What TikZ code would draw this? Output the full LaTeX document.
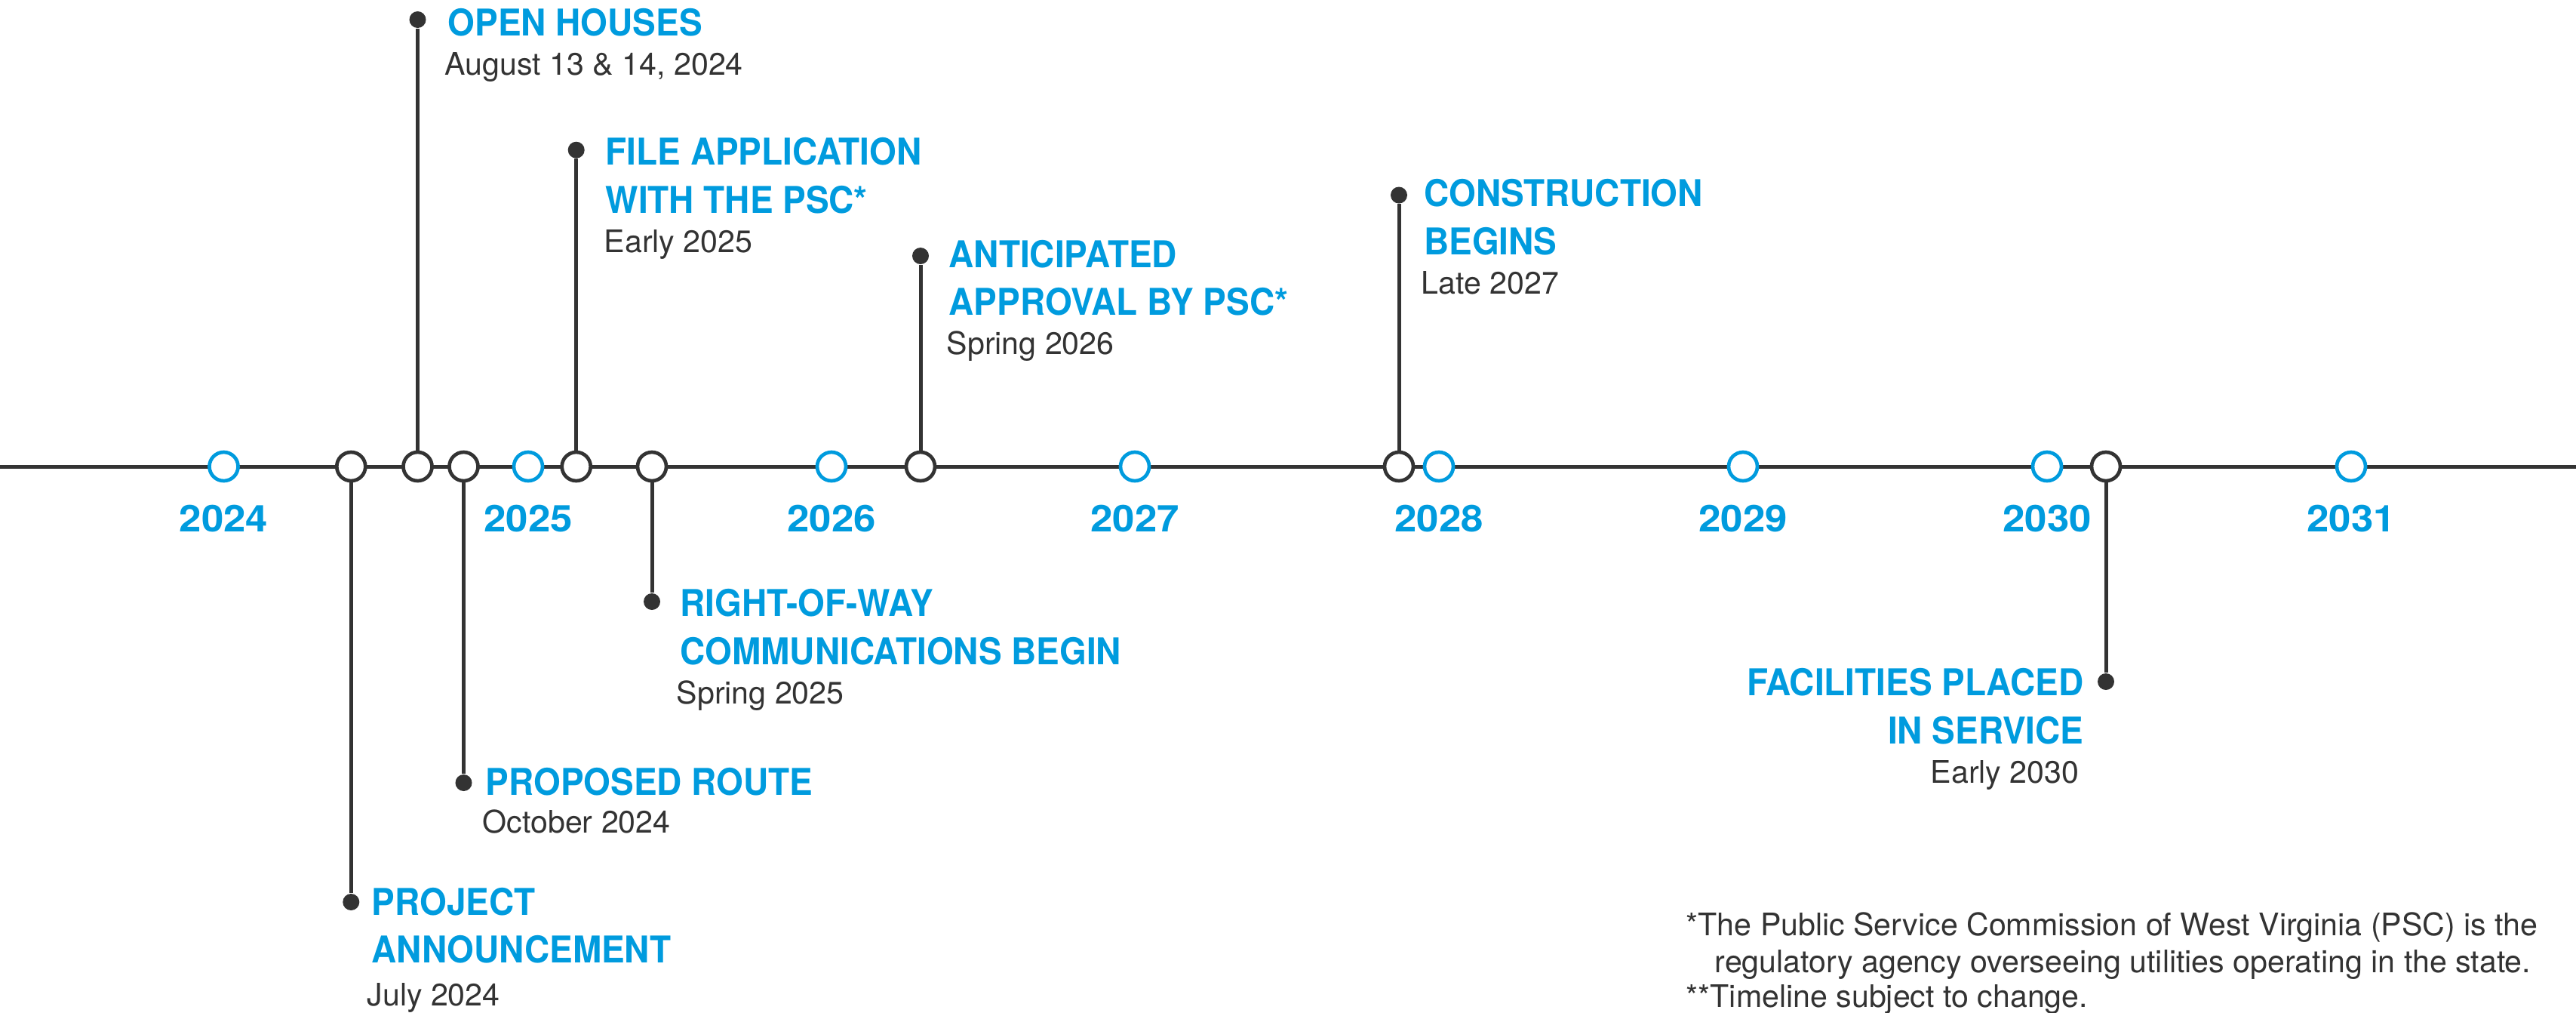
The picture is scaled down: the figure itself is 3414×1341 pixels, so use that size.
\documentclass[tikz,border=0pt]{standalone}
\usepackage{fontspec}
\setmainfont{TeX Gyre Heros}
\newfontfamily\ttlfont{TeX Gyre Heros}[FakeStretch=0.94]
\newfontfamily\yrfont{TeX Gyre Heros}[FakeStretch=1.08]
\definecolor{tblue}{RGB}{0,155,222}
\definecolor{tdark}{RGB}{51,51,51}
\begin{document}
\begin{tikzpicture}[x=0.01cm,y=-0.01cm,
  axis/.style={line width=0.05cm, draw=tdark},
  yearmark/.style={circle, draw=tblue, line width=0.047cm, fill=white, minimum size=0.38cm, inner sep=0pt},
  eventmark/.style={circle, draw=tdark, line width=0.047cm, fill=white, minimum size=0.38cm, inner sep=0pt},
  enddot/.style={circle, fill=tdark, minimum size=0.22cm, inner sep=0pt},
  stem/.style={line width=0.05cm, draw=tdark},
  ttl/.style={font=\ttlfont\bfseries\fontsize{13.9}{16}\selectfont, text=tblue, inner sep=0pt, anchor=base west},
  ttlr/.style={ttl, anchor=base east},
  yr/.style={font=\yrfont\bfseries\fontsize{13.9}{16}\selectfont, text=tblue, inner sep=0pt, anchor=base},
  dte/.style={font=\fontsize{11.7}{14}\selectfont, text=tdark, inner sep=0pt, anchor=base west},
  dter/.style={dte, anchor=base east},
  note/.style={dte}]
\useasboundingbox (0,0) rectangle (3414,1341);
\coordinate (L) at (0,618);
\coordinate (R) at (3414,618);
\draw[axis] (L) -- (R);

% year markers
\foreach \n/\x in {2024/296.5,2025/700,2026/1102,2027/1504,2028/1907,2029/2310,2030/2713,2031/3116}{
  \node[yearmark] (y\n) at (\x,618) {};
  \node[yr] (l\n) at (\x,704) {\n};
}

% event markers on the axis
\node[eventmark] (c1) at (465.3,618) {};
\node[eventmark] (c2) at (553.5,618) {};
\node[eventmark] (c3) at (614.5,618) {};
\node[eventmark] (c4) at (763.7,618) {};
\node[eventmark] (c5) at (864,618) {};
\node[eventmark] (c6) at (1220,618) {};
\node[eventmark] (c7) at (1854,618) {};
\node[eventmark] (c8) at (2791,618) {};

% end dots
\node[enddot] (d1) at (465.3,1195) {};
\node[enddot] (d2) at (553.5,26) {};
\node[enddot] (d3) at (614.5,1037) {};
\node[enddot] (d4) at (763.7,198.7) {};
\node[enddot] (d5) at (864,797) {};
\node[enddot] (d6) at (1220,339) {};
\node[enddot] (d7) at (1854,258.5) {};
\node[enddot] (d8) at (2791,903) {};

\foreach \i in {1,...,8}{ \draw[stem] (c\i) -- (d\i); }

% labels
\node[ttl] (t1a) at (492,1212) {PROJECT};
\node[ttl] (t1b) at (492,1275.5) {ANNOUNCEMENT};
\node[dte] (t1c) at (486,1332) {July 2024};

\node[ttl] (t2a) at (593,47.8) {OPEN HOUSES};
\node[dte] (t2c) at (589,99) {August 13 \& 14, 2024};

\node[ttl] (t3a) at (643,1053) {PROPOSED ROUTE};
\node[dte] (t3c) at (639,1103.5) {October 2024};

\node[ttl] (t4a) at (802,218.7) {FILE APPLICATION};
\node[ttl] (t4b) at (802,282) {WITH THE PSC*};
\node[dte] (t4c) at (800,334) {Early 2025};

\node[ttl] (t5a) at (901,816) {RIGHT-OF-WAY};
\node[ttl] (t5b) at (901,880.5) {COMMUNICATIONS BEGIN};
\node[dte] (t5c) at (896,932) {Spring 2025};

\node[ttl] (t6a) at (1257,354) {ANTICIPATED};
\node[ttl] (t6b) at (1257,417) {APPROVAL BY PSC*};
\node[dte] (t6c) at (1254,469.7) {Spring 2026};

\node[ttl] (t7a) at (1886.7,273.8) {CONSTRUCTION};
\node[ttl] (t7b) at (1886.7,337) {BEGINS};
\node[dte] (t7c) at (1883,389.7) {Late 2027};

\node[ttlr] (t8a) at (2762,921) {FACILITIES PLACED};
\node[ttlr] (t8b) at (2762,985) {IN SERVICE};
\node[dter] (t8c) at (2756,1037) {Early 2030};

% footnotes
\node[note] (n1) at (2234,1239) {*The Public Service Commission of West Virginia (PSC) is the};
\node[note] (n2) at (2272,1288) {regulatory agency overseeing utilities operating in the state.};
\node[note] (n3) at (2234,1334.5) {**Timeline subject to change.};
\end{tikzpicture}
\end{document}
